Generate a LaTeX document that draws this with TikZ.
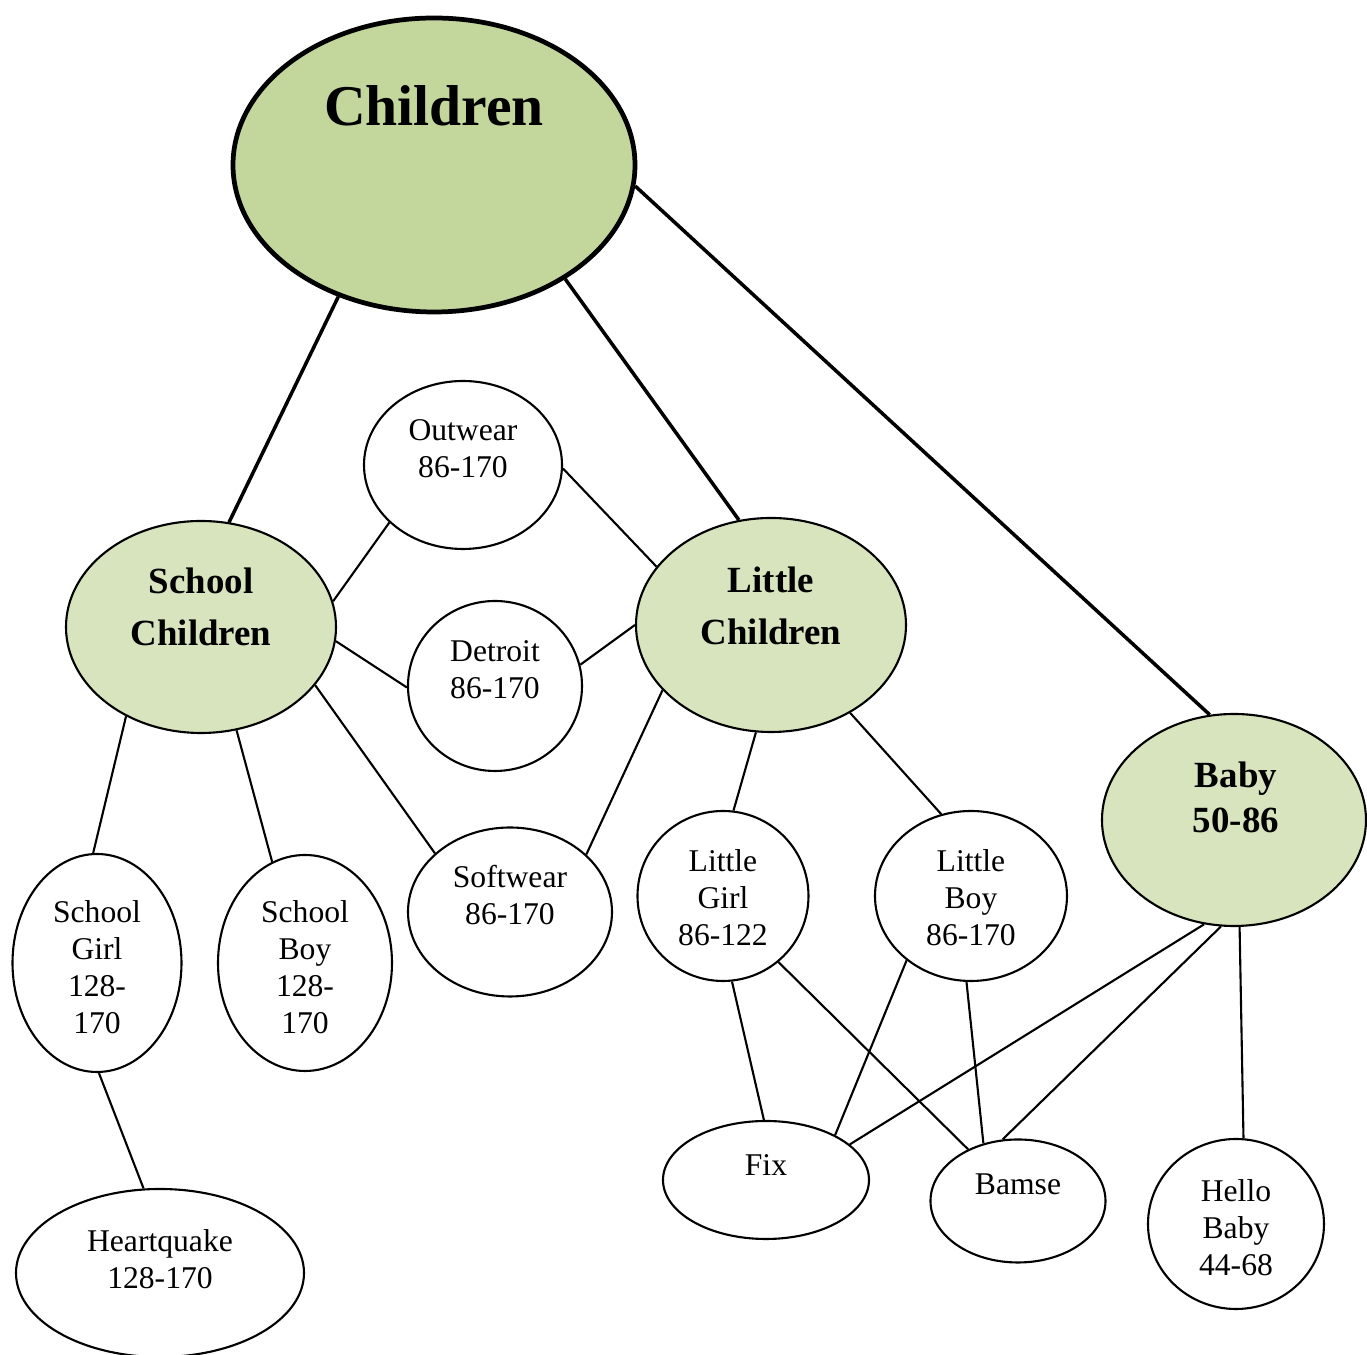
\documentclass[tikz,border=0pt]{standalone}
\usepackage{fontspec}
\setmainfont{Liberation Serif}
\usepackage{xcolor}
\usepackage{tikz}
\usetikzlibrary{positioning, shapes.geometric, calc}

\definecolor{topgreen}{RGB}{195,214,155}
\definecolor{lightgreen}{RGB}{215,228,189}

\begin{document}
\begin{tikzpicture}[
    topbox/.style={ellipse, draw, line width=1.35pt, fill=topgreen, inner sep=0pt},
    groupbox/.style={ellipse, draw, line width=0.6pt, fill=lightgreen, inner sep=0pt},
    itembox/.style={ellipse, draw, line width=0.6pt, fill=white, inner sep=0pt},
    itemtext/.style={align=center, inner sep=0pt, font=\fontsize{9pt}{10.5pt}\selectfont},
    grouptext/.style={align=center, inner sep=0pt, font=\fontsize{10.5pt}{14.8pt}\selectfont\bfseries},
    link/.style={line width=0.6pt},
    thicklink/.style={line width=1pt}
]
    \useasboundingbox (0,0) rectangle (13.67,-13.55);

    % Ellipses
    \node[topbox, minimum width=4.02cm, minimum height=2.94cm] (children) at (4.34,-1.65) {};
    \node[groupbox, minimum width=2.70cm, minimum height=2.12cm] (schoolch) at (2.01,-6.27) {};
    \node[groupbox, minimum width=2.70cm, minimum height=2.14cm] (littlech) at (7.71,-6.25) {};
    \node[groupbox, minimum width=2.64cm, minimum height=2.12cm] (baby) at (12.34,-8.20) {};
    \node[itembox, minimum width=1.98cm, minimum height=1.68cm] (outwear) at (4.63,-4.65) {};
    \node[itembox, minimum width=1.74cm, minimum height=1.70cm] (detroit) at (4.95,-6.86) {};
    \node[itembox, minimum width=2.04cm, minimum height=1.69cm] (softwear) at (5.10,-9.12) {};
    \node[itembox, minimum width=1.71cm, minimum height=1.70cm] (littlegirl) at (7.23,-8.96) {};
    \node[itembox, minimum width=1.92cm, minimum height=1.70cm] (littleboy) at (9.71,-8.96) {};
    \node[itembox, minimum width=1.69cm, minimum height=2.18cm] (schoolgirl) at (0.97,-9.63) {};
    \node[itembox, minimum width=1.74cm, minimum height=2.16cm] (schoolboy) at (3.05,-9.63) {};
    \node[itembox, minimum width=2.88cm, minimum height=1.68cm] (heartquake) at (1.60,-12.73) {};
    \node[itembox, minimum width=2.06cm, minimum height=1.18cm] (fix) at (7.66,-11.80) {};
    \node[itembox, minimum width=1.75cm, minimum height=1.23cm] (bamse) at (10.18,-12.01) {};
    \node[itembox, minimum width=1.76cm, minimum height=1.70cm] (hellobaby) at (12.36,-12.24) {};

    % Texts
    \node[font=\fontsize{16.4pt}{19pt}\selectfont\bfseries, inner sep=0pt] (children-t) at (4.34,-1.06) {Children};
    \node[grouptext] (schoolch-t) at (2.01,-6.07) {School\\Children};
    \node[grouptext] (littlech-t) at (7.71,-6.06) {Little\\Children};
    \node[grouptext, font=\fontsize{10.5pt}{12.8pt}\selectfont\bfseries] (baby-t) at (12.36,-7.97) {Baby\\50-86};
    \node[itemtext] (outwear-t) at (4.63,-4.49) {Outwear\\86-170};
    \node[itemtext] (detroit-t) at (4.95,-6.70) {Detroit\\86-170};
    \node[itemtext] (softwear-t) at (5.10,-8.95) {Softwear\\86-170};
    \node[itemtext] (littlegirl-t) at (7.23,-8.98) {Little\\Girl\\86-122};
    \node[itemtext] (littleboy-t) at (9.71,-8.98) {Little\\Boy\\86-170};
    \node[itemtext] (schoolgirl-t) at (0.97,-9.67) {School\\Girl\\128-\\170};
    \node[itemtext] (schoolboy-t) at (3.05,-9.67) {School\\Boy\\128-\\170};
    \node[itemtext] (heartquake-t) at (1.60,-12.59) {Heartquake\\128-170};
    \node[itemtext] (fix-t) at (7.66,-11.655) {Fix};
    \node[itemtext] (bamse-t) at (10.18,-11.84) {Bamse};
    \node[itemtext] (hellobaby-t) at (12.36,-12.275) {Hello\\Baby\\44-68};

    % Links from the top
    \draw[thicklink] (children.234.2) -- (schoolch.75.3);
    \draw[thicklink] (children.319.3) -- (littlech.107.4);
    \draw[thicklink] (children.354.7) -- (baby.103.2);

    % Links between the groups and the items
    \draw[link] (outwear.218.2) -- (schoolch.11.7);
    \draw[link] (outwear.358.3) -- (littlech.153.8);
    \draw[link] (schoolch.354.1) -- (detroit.181.3);
    \draw[link] (detroit.14.6) -- (littlech.180.8);
    \draw[link] (schoolch.333.2) -- (softwear.142.5);
    \draw[link] (littlech.211.5) -- (softwear.37.1);
    \draw[link] (schoolch.230.4) -- (schoolgirl.92.6);
    \draw[link] (schoolch.289.9) -- (schoolboy.108.3);
    \draw[link] (littlech.262) -- (littlegirl.83.4);
    \draw[link] (littlech.312.3) -- (littleboy.110);
    \draw[link] (schoolgirl.271.6) -- (heartquake.101.2);
    \draw[link] (littlegirl.276.7) -- (fix.92.9);
    \draw[link] (littlegirl.310.8) -- (bamse.134.5);
    \draw[link] (littleboy.225.9) -- (fix.33.1);
    \draw[link] (littleboy.267.3) -- (bamse.121.4);
    \draw[link] (baby.254.6) -- (fix.23.3);
    \draw[link] (baby.263.5) -- (bamse.104.7);
    \draw[link] (baby.273.3) -- (hellobaby.85.3);
\end{tikzpicture}
\end{document}
